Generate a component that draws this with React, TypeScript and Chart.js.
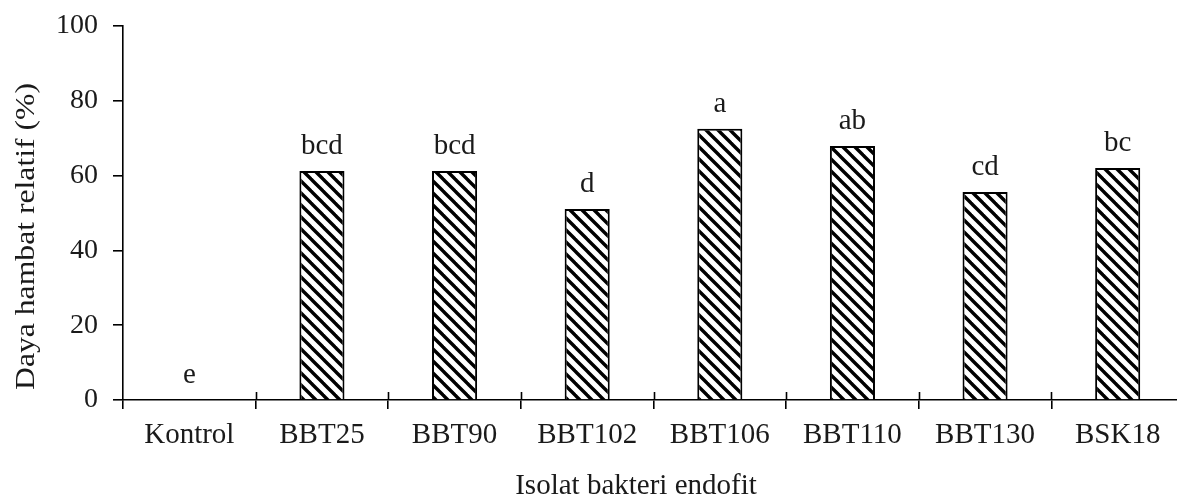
import React, { useEffect, useRef } from "react";
import { Chart, registerables } from "chart.js";

Chart.register(...registerables);

const categories = ["Kontrol", "BBT25", "BBT90", "BBT102", "BBT106", "BBT110", "BBT130", "BSK18"];
const values = [0, 61.2, 61.2, 51.1, 72.5, 67.9, 55.6, 62.0];
const letters = ["e", "bcd", "bcd", "d", "a", "ab", "cd", "bc"];
const yTicks = [0, 20, 40, 60, 80, 100];
const yTitle = "Daya hambat relatif (%)";
const xTitle = "Isolat bakteri endofit";

const FONT = "'Liberation Serif', 'Times New Roman', serif";
const TEXT = "#1a1a1a";

function makeHatch(): CanvasPattern | string {
  const s = 12;
  const c = document.createElement("canvas");
  c.width = s;
  c.height = s;
  const g = c.getContext("2d");
  if (!g) return "#000";
  g.fillStyle = "#fff";
  g.fillRect(0, 0, s, s);
  g.strokeStyle = "#000";
  g.lineWidth = 3.4;
  g.lineCap = "square";
  for (const k of [-1, 0, 1]) {
    g.beginPath();
    g.moveTo(k * s - 2, -2);
    g.lineTo(k * s + s + 2, s + 2);
    g.stroke();
  }
  const p = g.createPattern(c, "repeat");
  return p || "#000";
}

const overlay = {
  id: "overlay",
  afterDraw(chart: any) {
    const ctx = chart.ctx;
    const area = chart.chartArea;
    const xs = chart.scales.x;
    ctx.save();
    // upward part of x-axis category ticks
    ctx.strokeStyle = "#000";
    ctx.lineWidth = 1.6;
    const n = categories.length;
    const step = (xs.right - xs.left) / n;
    for (let i = 1; i <= n; i++) {
      const x = Math.round(xs.left + i * step) + 0.5;
      ctx.beginPath();
      ctx.moveTo(x, area.bottom);
      ctx.lineTo(x, area.bottom - 8);
      ctx.stroke();
    }
    // letters above bars
    ctx.fillStyle = TEXT;
    ctx.font = `29px ${FONT}`;
    ctx.textAlign = "center";
    ctx.textBaseline = "alphabetic";
    const meta = chart.getDatasetMeta(0);
    meta.data.forEach((bar: any, i: number) => {
      ctx.fillText(letters[i], bar.x, bar.y - 17);
    });
    // x title
    ctx.fillText(xTitle, 636, 494);
    // y title (stretched along its length to match the reference)
    ctx.font = `28px ${FONT}`;
    const w = ctx.measureText(yTitle).width;
    const sx = 307 / w;
    ctx.translate(34, 236.5);
    ctx.rotate(-Math.PI / 2);
    ctx.scale(sx, 1);
    ctx.fillText(yTitle, 0, 0);
    ctx.restore();
  },
};

export default function App() {
  const ref = useRef<HTMLCanvasElement | null>(null);
  useEffect(() => {
    if (!ref.current) return;
    const chart = new Chart(ref.current, {
      type: "bar",
      data: {
        labels: categories,
        datasets: [
          {
            data: values,
            backgroundColor: makeHatch() as any,
            borderColor: "#000",
            borderWidth: 2,
            barPercentage: 0.34,
            categoryPercentage: 1,
          },
        ],
      },
      options: {
        responsive: false,
        animation: false,
        layout: { padding: { top: 26, right: 6, left: 0, bottom: 0 } },
        plugins: { legend: { display: false }, tooltip: { enabled: false } },
        scales: {
          x: {
            offset: true,
            grid: {
              offset: true,
              drawOnChartArea: false,
              drawTicks: true,
              tickLength: 9,
              color: "#000",
              lineWidth: 1.6,
            },
            border: { display: true, color: "#000", width: 1.6 },
            ticks: {
              color: TEXT,
              font: { family: FONT, size: 29 },
              padding: 9,
              maxRotation: 0,
              autoSkip: false,
            },
            afterFit: (s: any) => {
              s.height = 97;
              s.paddingLeft = 0;
              s.paddingRight = 0;
            },
          },
          y: {
            min: 0,
            max: 100,
            afterBuildTicks: (s: any) => {
              s.ticks = yTicks.map((v) => ({ value: v }));
            },
            grid: {
              drawOnChartArea: false,
              drawTicks: true,
              tickLength: 10,
              color: "#000",
              lineWidth: 1.6,
            },
            border: { display: true, color: "#000", width: 1.6 },
            ticks: {
              color: TEXT,
              font: { family: FONT, size: 28 },
              padding: 15,
            },
            afterFit: (s: any) => {
              s.width = 123;
              s.paddingTop = 0;
              s.paddingBottom = 0;
            },
          },
        },
      },
      plugins: [overlay],
    });
    return () => chart.destroy();
  }, []);
  return (
    <div style={{ position: "fixed", left: 0, top: 0, width: 1177, height: 497, overflow: "hidden", background: "#fff" }}>
      <canvas ref={ref} width={1190} height={497} style={{ display: "block" }} />
    </div>
  );
}
